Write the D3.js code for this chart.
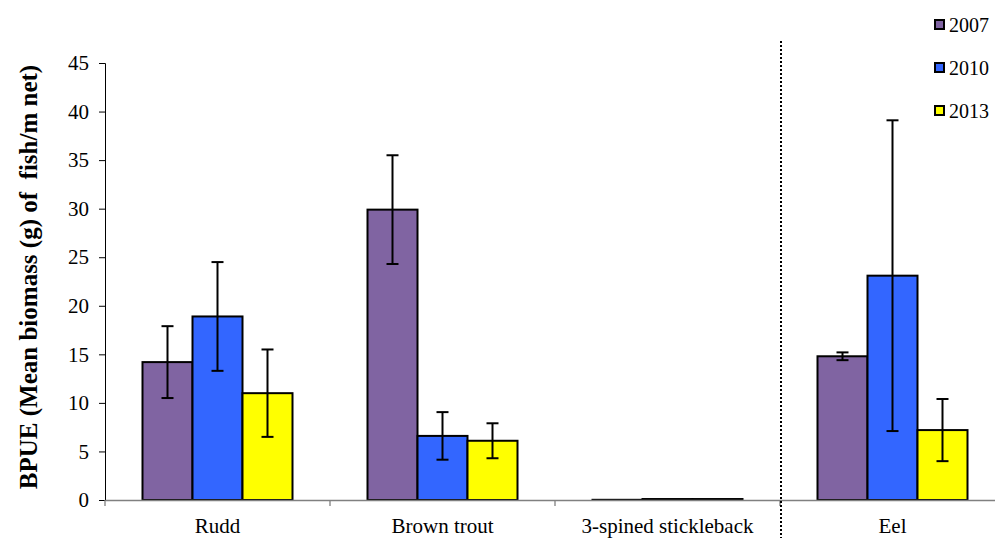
<!DOCTYPE html>
<html><head><meta charset="utf-8">
<script src="https://cdn.jsdelivr.net/npm/d3@7"></script>
<style>body{margin:0;background:#fff}svg{display:block;font-family:"Liberation Serif","Times New Roman",serif}</style>
</head><body><svg id="c" width="995" height="538"></svg>
<script>
const categories = ["Rudd","Brown trout","3-spined stickleback","Eel"];
const years = ["2007","2010","2013"];
const values2007 = [14.2, 29.9, 0.02, 14.8];
const values2010 = [18.9, 6.6, 0.1, 23.1];
const values2013 = [11.0, 6.1, 0.1, 7.2];
const errors2007 = [3.7, 5.6, 0, 0.4];
const errors2010 = [5.6, 2.45, 0, 16.0];
const errors2013 = [4.5, 1.8, 0, 3.2];
const yTicks = [0,5,10,15,20,25,30,35,40,45];
const colors = ["#8064A2","#3366FF","#FFFF00"];

const series = [values2007, values2010, values2013];
const errs = [errors2007, errors2010, errors2013];

const FONT = "Liberation Serif";
const svg = d3.select("#c");
const mLeft = 105, mBottom = 500, mTop = 63;
const x = d3.scaleBand().domain(categories).range([mLeft, mLeft + 900]).paddingInner(0).paddingOuter(0);
const y = d3.scaleLinear().domain([0,45]).range([mBottom, mTop]);
const x1 = d3.scaleBand().domain(years).range([0,150]);

// y axis
const yAx = svg.append("g").attr("transform",`translate(${mLeft},0)`)
  .call(d3.axisLeft(y).tickValues(yTicks).tickSize(6).tickPadding(10));
yAx.attr("font-family",FONT).attr("font-size",21);
yAx.select(".domain").attr("stroke","#000");
yAx.selectAll("text").attr("fill","#000");

// bars
categories.forEach((c,i)=>{
  const gx = x(c) + (x.bandwidth()-150)/2;
  years.forEach((yr,j)=>{
    const v = series[j][i];
    svg.append("rect")
      .attr("x", gx + x1(yr)).attr("y", y(v))
      .attr("width", x1.bandwidth()).attr("height", y(0)-y(v))
      .attr("fill", colors[j]).attr("stroke","#000").attr("stroke-width",2);
  });
});

// x axis
const xAx = svg.append("g").attr("transform",`translate(0,${mBottom})`)
  .call(d3.axisBottom(x).tickSize(0).tickPadding(17));
xAx.attr("font-family",FONT).attr("font-size",21);
xAx.select(".domain").attr("stroke","#808080").attr("stroke-width",1.3);
xAx.selectAll("text").attr("fill","#000").attr("dy",null).attr("y",33);
xAx.selectAll(".b").data(categories).enter().append("line")
  .attr("x1",d=>x(d)).attr("x2",d=>x(d)).attr("y1",0).attr("y2",6).attr("stroke","#808080").attr("stroke-width",1.3);

// error bars
categories.forEach((c,i)=>{
  const gx = x(c) + (x.bandwidth()-150)/2;
  years.forEach((yr,j)=>{
    const v = series[j][i], e = errs[j][i];
    if (!e) return;
    const cx = gx + x1(yr) + x1.bandwidth()/2;
    const g = svg.append("g").attr("stroke","#000").attr("stroke-width",2);
    g.append("line").attr("x1",cx).attr("x2",cx).attr("y1",y(v+e)).attr("y2",y(v-e));
    g.append("line").attr("x1",cx-6).attr("x2",cx+6).attr("y1",y(v+e)).attr("y2",y(v+e));
    g.append("line").attr("x1",cx-6).attr("x2",cx+6).attr("y1",y(v-e)).attr("y2",y(v-e));
  });
});

// dotted separator
svg.append("line").attr("x1",x("Eel")+1).attr("x2",x("Eel")+1).attr("y1",41).attr("y2",538)
  .attr("stroke","#000").attr("stroke-width",2).attr("stroke-dasharray","2,2");

// y title
svg.append("text").attr("transform","translate(37,277) rotate(-90)").attr("text-anchor","middle")
  .attr("font-family",FONT).attr("font-size",25).attr("font-weight","bold").attr("xml:space","preserve")
  .text("BPUE (Mean biomass (g) of  fish/m net)");

// legend
years.forEach((yr,j)=>{
  const ly = 25 + j*43;
  svg.append("rect").attr("x",935).attr("y",ly-5).attr("width",9).attr("height",9)
    .attr("fill",colors[j]).attr("stroke","#000").attr("stroke-width",2);
  svg.append("text").attr("x",949).attr("y",ly+7).attr("font-family",FONT).attr("font-size",20).text(yr);
});
</script></body></html>
